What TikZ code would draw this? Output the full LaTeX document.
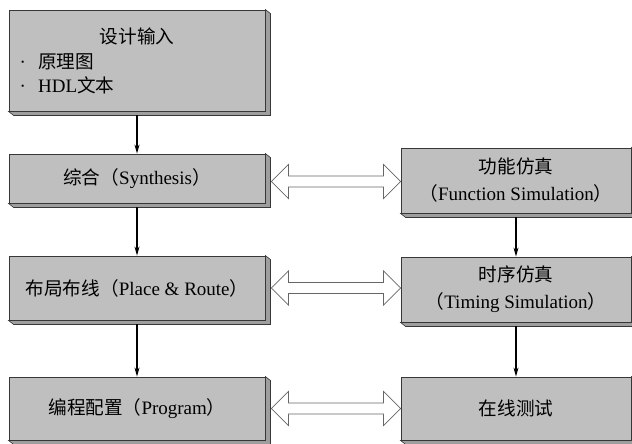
\documentclass[tikz,border=0pt]{standalone}
\usepackage{fontspec}
\setmainfont{Liberation Serif}
\newfontfamily\cjk{Noto Sans CJK SC}[Scale=0.98]
\usepackage{xcolor}
\usepackage{tikz}
\usetikzlibrary{arrows.meta,calc}

\definecolor{boxface}{RGB}{191,191,191}
\definecolor{boxside}{RGB}{158,158,158}
\definecolor{boxline}{RGB}{55,55,55}

\tikzset{
	stage/.style={draw=boxline,fill=boxface,line width=0.9pt,inner sep=0pt,
		font=\fontsize{19}{27}\selectfont,align=center},
	side/.style={draw=boxline,fill=boxside,line width=0.6pt},
	flow/.style={-{Stealth[length=9pt,width=5pt]},line width=1.1pt,shorten <=4pt},
	fat/.style={draw=black!60,fill=white,line width=0.7pt},
	lbl/.style={inner sep=0pt,font=\fontsize{19}{20}\selectfont}
}

\newcommand{\fatarrow}[2]{%
	\draw[fat] (#1) -- ++(17,-17) -- ++(0,11.5) -- ($(#2)+(-17,-5.5)$) -- ++(0,-11.5)
	-- (#2) -- ++(-17,17) -- ++(0,-11.5) -- ($(#1)+(17,5.5)$) -- ++(0,11.5) -- cycle;}

\begin{document}
\begin{tikzpicture}[x=1pt,y=-1pt]
	\useasboundingbox (0,0) rectangle (632,444);
	\clip (0,0) rectangle (632,444);
	
	% left column
	\node[stage,minimum width=256pt,minimum height=101pt] (inp) at (137,60.5) {};
	\node[stage,minimum width=256pt,minimum height=49pt] (syn) at (137,178.5) {{\cjk 综合（}Synthesis{\cjk ）}};
	\node[stage,minimum width=256pt,minimum height=64pt] (par) at (137,288) {{\cjk 布局布线（}Place \& Route{\cjk ）}};
	\node[stage,minimum width=256pt,minimum height=63pt] (prg) at (137,408.5) {{\cjk 编程配置（}Program{\cjk ）}};
	
	% right column
	\node[stage,minimum width=230pt,minimum height=65pt] (fun) at (516,180.5) {{\cjk 功能仿真}\\{\cjk （}Function Simulation{\cjk ）}};
	\node[stage,minimum width=230pt,minimum height=65pt] (tim) at (516,289.5) {{\cjk 时序仿真}\\{\cjk （}Timing Simulation{\cjk ）}};
	\node[stage,minimum width=230pt,minimum height=63pt] (tst) at (516,408.5) {{\cjk 在线测试}};
	
	\foreach \n in {inp,syn,par,prg,fun,tim,tst}
	\draw[side] (\n.north east) -- ([shift={(5,4)}]\n.north east) -- ([shift={(5,4)}]\n.south east)
	-- ([shift={(5,4)}]\n.south west) -- (\n.south west) -- (\n.south east) -- cycle;
	
	% text of the input box
	\node[lbl] (ttl) at ($(inp.north)+(0,27)$) {\cjk 设计输入};
	\node[lbl,anchor=west] (it1) at ($(inp.north west)+(11,52)$) {·\hspace{12pt}{\cjk 原理图}};
	\node[lbl,anchor=west] (it2) at ($(inp.north west)+(11,76)$) {·\hspace{12pt}HDL{\cjk 文本}};
	
	% flow
	\draw[flow] (inp.south) -- (syn.north);
	\draw[flow] (syn.south) -- (par.north);
	\draw[flow] (par.south) -- (prg.north);
	\draw[flow] (fun.south) -- (tim.north);
	\draw[flow] (tim.south) -- (tst.north);
	
	% two-way links
	\path ($(syn.east)+(6,3)$) coordinate (s1) (fun.west |- s1) coordinate (e1);
	\path ($(par.east)+(6,0)$) coordinate (s2) (tim.west |- s2) coordinate (e2);
	\path ($(prg.east)+(6,0)$) coordinate (s3) (tst.west |- s3) coordinate (e3);
	\fatarrow{s1}{e1}
	\fatarrow{s2}{e2}
	\fatarrow{s3}{e3}
	
\end{tikzpicture}
\end{document}
